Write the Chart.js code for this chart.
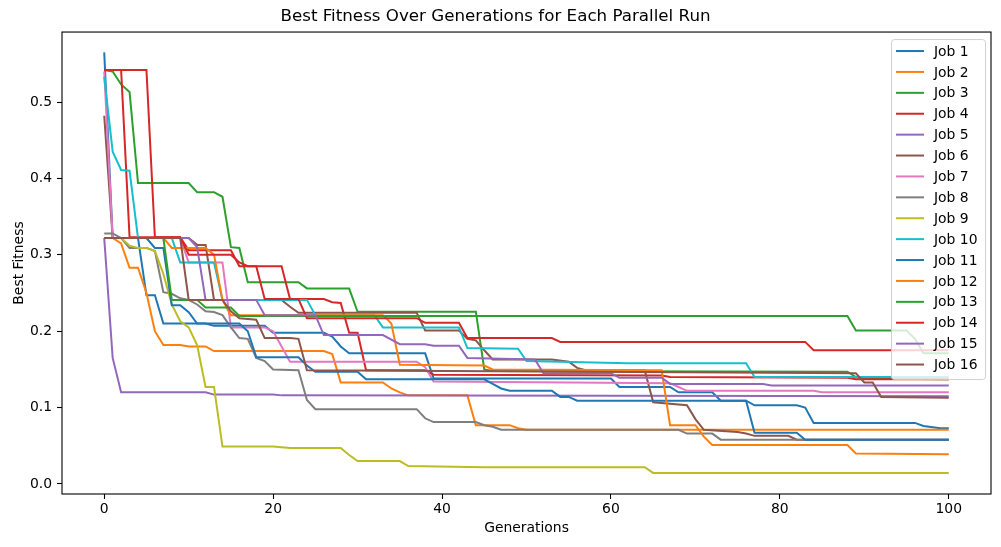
<!DOCTYPE html>
<html>
<head>
<meta charset="utf-8">
<title>Best Fitness Over Generations</title>
<script src="https://cdn.jsdelivr.net/npm/chart.js@4.4.0/dist/chart.umd.min.js"></script>
<style>
    html, body { margin: 0; padding: 0; background: #fff; }
    #wrap { width: 1001px; height: 547px; }
</style>
</head>
<body>
<div id="wrap"><canvas id="fitnessChart" width="1001" height="547"></canvas></div>
<script>
// ========================================
// best fitness per generation, one list per parallel job
// each entry is [generation, fitness] at a corner of the curve
// ========================================
const job1 = [[0,0.565],[1,0.322],[4,0.322],[5,0.247],[6,0.247],[7,0.21],[12,0.21],[13,0.207],[19,0.207],[20,0.198],[26,0.198],[27,0.193],[28,0.18],[29,0.171],[38,0.171],[39,0.138],[60,0.138],[61,0.127],[67,0.127],[68,0.12],[72,0.12],[73,0.109],[76,0.109],[77,0.103],[82,0.103],[83,0.1],[84,0.08],[96,0.08],[97,0.076],[99,0.073],[100,0.073]];
const job2 = [[0,0.322],[1,0.322],[2,0.315],[3,0.283],[4,0.283],[5,0.25],[6,0.2],[7,0.182],[9,0.182],[10,0.18],[12,0.18],[13,0.174],[26,0.174],[27,0.17],[28,0.133],[33,0.133],[34,0.125],[35,0.12],[36,0.116],[43,0.116],[44,0.077],[48,0.077],[49,0.073],[50,0.071],[100,0.071]];
const job3 = [[0,0.542],[1,0.54],[2,0.523],[3,0.513],[4,0.394],[10,0.394],[11,0.382],[13,0.382],[14,0.376],[15,0.31],[16,0.309],[17,0.264],[23,0.264],[24,0.256],[29,0.256],[30,0.2255],[44,0.2255],[45,0.15],[46,0.148],[88,0.147],[89,0.14],[90,0.138],[100,0.137]];
const job4 = [[0,0.542],[2,0.542],[3,0.323],[9,0.323],[10,0.306],[15,0.306],[16,0.285],[21,0.285],[22,0.242],[26,0.242],[27,0.238],[28,0.237],[29,0.198],[30,0.198],[31,0.149],[38,0.149],[39,0.143],[66,0.142],[67,0.14],[88,0.139],[89,0.137],[100,0.137]];
const job5 = [[0,0.322],[1,0.165],[2,0.12],[12,0.12],[13,0.117],[20,0.117],[21,0.116],[100,0.115]];
const job6 = [[0,0.482],[1,0.322],[10,0.322],[11,0.313],[12,0.313],[13,0.241],[21,0.241],[22,0.232],[23,0.224],[37,0.224],[38,0.201],[42,0.201],[43,0.19],[44,0.188],[45,0.175],[46,0.163],[53,0.163],[55,0.16],[56,0.152],[57,0.149],[64,0.149],[65,0.107],[69,0.103],[70,0.085],[71,0.071],[75,0.068],[76,0.066],[77,0.063],[81,0.063],[82,0.058],[100,0.058]];
const job7 = [[0,0.54],[1,0.322],[9,0.322],[10,0.29],[14,0.29],[15,0.205],[19,0.205],[20,0.2],[21,0.18],[22,0.16],[37,0.16],[38,0.153],[39,0.134],[67,0.132],[68,0.127],[69,0.122],[84,0.122],[85,0.12],[100,0.12]];
const job8 = [[0,0.328],[1,0.328],[2,0.322],[3,0.309],[5,0.309],[6,0.305],[7,0.251],[8,0.249],[9,0.243],[10,0.241],[11,0.235],[12,0.226],[13,0.225],[14,0.221],[15,0.205],[16,0.191],[17,0.19],[18,0.165],[19,0.161],[20,0.15],[23,0.149],[24,0.11],[25,0.098],[37,0.098],[38,0.086],[39,0.081],[44,0.081],[45,0.077],[46,0.075],[47,0.071],[68,0.071],[69,0.066],[72,0.066],[73,0.058],[100,0.058]];
const job9 = [[0,0.322],[2,0.322],[3,0.312],[4,0.309],[5,0.309],[6,0.305],[7,0.275],[8,0.235],[9,0.213],[10,0.205],[11,0.182],[12,0.127],[13,0.127],[14,0.049],[20,0.049],[21,0.048],[22,0.047],[28,0.047],[29,0.038],[30,0.03],[35,0.03],[36,0.0235],[45,0.022],[64,0.022],[65,0.0145],[100,0.0145]];
const job10 = [[0,0.533],[1,0.435],[2,0.411],[3,0.41],[4,0.322],[8,0.322],[9,0.29],[13,0.29],[14,0.241],[24,0.241],[25,0.221],[32,0.221],[33,0.205],[42,0.205],[43,0.178],[49,0.177],[50,0.161],[62,0.158],[76,0.158],[77,0.14],[100,0.14]];
const job11 = [[0,0.322],[5,0.322],[6,0.309],[7,0.309],[8,0.234],[9,0.234],[10,0.225],[11,0.21],[16,0.21],[17,0.2],[18,0.166],[23,0.166],[24,0.155],[25,0.147],[30,0.147],[31,0.137],[45,0.137],[46,0.131],[47,0.125],[48,0.122],[53,0.122],[54,0.114],[55,0.114],[56,0.109],[76,0.109],[77,0.067],[82,0.067],[83,0.058],[100,0.058]];
const job12 = [[0,0.322],[7,0.322],[8,0.309],[12,0.309],[13,0.3],[14,0.241],[15,0.221],[33,0.221],[34,0.21],[35,0.156],[45,0.155],[46,0.15],[66,0.149],[67,0.077],[70,0.077],[71,0.062],[72,0.051],[88,0.051],[89,0.04],[100,0.039]];
const job13 = [[0,0.322],[7,0.322],[8,0.241],[11,0.241],[12,0.231],[15,0.231],[16,0.22],[88,0.22],[89,0.201],[95,0.201],[96,0.19],[97,0.171],[100,0.171]];
const job14 = [[0,0.542],[5,0.542],[6,0.323],[9,0.323],[10,0.3],[15,0.3],[16,0.29],[17,0.285],[18,0.285],[19,0.242],[23,0.242],[24,0.217],[37,0.217],[38,0.211],[42,0.211],[43,0.191],[53,0.191],[54,0.186],[83,0.186],[84,0.175],[100,0.175]];
const job15 = [[0,0.322],[10,0.322],[11,0.31],[12,0.241],[18,0.241],[19,0.221],[25,0.221],[26,0.195],[33,0.195],[35,0.183],[38,0.183],[39,0.181],[42,0.181],[43,0.165],[51,0.163],[52,0.145],[60,0.145],[61,0.139],[66,0.139],[67,0.131],[78,0.131],[79,0.129],[100,0.129]];
const job16 = [[0,0.322],[9,0.322],[10,0.241],[14,0.241],[15,0.226],[16,0.217],[18,0.215],[19,0.191],[22,0.191],[23,0.19],[24,0.149],[74,0.146],[89,0.145],[90,0.133],[91,0.133],[92,0.114],[100,0.113]];

const jobs = [job1, job2, job3, job4, job5, job6, job7, job8, job9, job10, job11, job12, job13, job14, job15, job16];
const jobLabels = jobs.map((_, i) => 'Job ' + (i + 1));

// matplotlib tab10 cycle
const tab10 = ['#1f77b4', '#ff7f0e', '#2ca02c', '#d62728', '#9467bd', '#8c564b', '#e377c2', '#7f7f7f', '#bcbd22', '#17becf'];

const xTicks = [0, 20, 40, 60, 80, 100];
const yTicks = [0.0, 0.1, 0.2, 0.3, 0.4, 0.5];

const FONT = 'DejaVu Sans';

// 外框 (四邊 spine)
const framePlugin = {
    id: 'frame',
    afterDatasetsDraw(chart) {
        const { ctx, chartArea: a } = chart;
        ctx.save();
        ctx.strokeStyle = '#000';
        ctx.lineWidth = 1.1;
        ctx.strokeRect(a.left, a.top, a.right - a.left, a.bottom - a.top);
        ctx.restore();
    }
};

// legend inside the axes, upper right, one column
const insideLegend = {
    id: 'insideLegend',
    afterDraw(chart) {
        const { ctx, chartArea: a } = chart;
        const sets = chart.data.datasets;
        const rowH = 20.9;
        const boxW = 94;
        const boxH = 340;
        const right = a.right - 6;
        const top = a.top + 7;
        const left = right - boxW;

        ctx.save();
        ctx.beginPath();
        ctx.roundRect(left + 0.5, top + 0.5, boxW, boxH, 3);
        ctx.fillStyle = 'rgba(255,255,255,0.8)';
        ctx.fill();
        ctx.strokeStyle = 'rgba(204,204,204,0.9)';
        ctx.lineWidth = 1;
        ctx.stroke();

        ctx.font = '13.9px "' + FONT + '"';
        ctx.textBaseline = 'middle';
        ctx.textAlign = 'left';
        sets.forEach((ds, i) => {
            const y = top + 12 + i * rowH;
            ctx.beginPath();
            ctx.strokeStyle = ds.borderColor;
            ctx.lineWidth = 2;
            ctx.moveTo(left + 5, y);
            ctx.lineTo(left + 33, y);
            ctx.stroke();
            ctx.fillStyle = '#000';
            ctx.fillText(ds.label, left + 43, y + 1);
        });
        ctx.restore();
    }
};

const ctx = document.getElementById('fitnessChart').getContext('2d');
new Chart(ctx, {
    type: 'line',
    data: {
        datasets: jobs.map((pts, i) => ({
            label: jobLabels[i],
            data: pts.map(([g, f]) => ({ x: g, y: f })),
            borderColor: tab10[i % 10],
            backgroundColor: tab10[i % 10],
            borderWidth: 2,
            pointRadius: 0,
            tension: 0,
            fill: false,
            order: jobs.length - i   // later jobs drawn on top
        }))
    },
    options: {
        responsive: false,
        devicePixelRatio: 1,
        animation: false,
        layout: {
            padding: { left: 0, right: 10, top: 0, bottom: 0 }
        },
        scales: {
            x: {
                type: 'linear',
                min: -5,
                max: 105,
                afterBuildTicks: axis => { axis.ticks = xTicks.map(v => ({ value: v })); },
                afterFit: axis => { axis.height = 53; },
                grid: {
                    drawOnChartArea: false,
                    drawTicks: true,
                    tickLength: 5,
                    tickColor: '#000',
                    tickWidth: 1.1
                },
                border: { display: false },
                ticks: {
                    padding: 2,
                    color: '#000',
                    maxRotation: 0,
                    font: { family: FONT, size: 13.9 },
                    callback: v => String(v)
                },
                title: {
                    display: true,
                    text: 'Generations',
                    color: '#000',
                    font: { family: FONT, size: 13.9 },
                    padding: { top: 0, bottom: 10 }
                }
            },
            y: {
                type: 'linear',
                min: -0.0131,
                max: 0.5916,
                afterBuildTicks: axis => { axis.ticks = yTicks.map(v => ({ value: v })); },
                afterFit: axis => { axis.width = 62; },
                grid: {
                    drawOnChartArea: false,
                    drawTicks: true,
                    tickLength: 5,
                    tickColor: '#000',
                    tickWidth: 1.1
                },
                border: { display: false },
                ticks: {
                    padding: 5,
                    color: '#000',
                    font: { family: FONT, size: 13.9 },
                    callback: v => v.toFixed(1)
                },
                title: {
                    display: true,
                    text: 'Best Fitness',
                    color: '#000',
                    font: { family: FONT, size: 13.9 },
                    padding: { top: 11, bottom: 0 }
                }
            }
        },
        plugins: {
            legend: { display: false },
            tooltip: { enabled: false },
            title: {
                display: true,
                text: 'Best Fitness Over Generations for Each Parallel Run',
                color: '#000',
                font: { family: FONT, size: 16.7, weight: 'normal' },
                padding: { top: 7, bottom: 5 }
            }
        }
    },
    plugins: [framePlugin, insideLegend]
});
</script>
</body>
</html>
